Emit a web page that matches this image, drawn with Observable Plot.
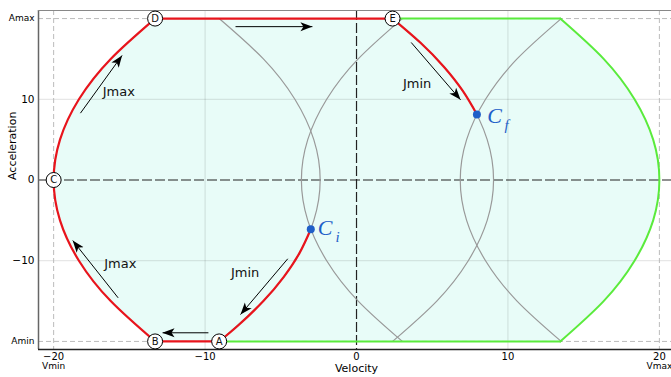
<!DOCTYPE html>
<html>
<head>
<meta charset="utf-8">
<script src="https://cdn.jsdelivr.net/npm/d3@7"></script>
<script src="https://cdn.jsdelivr.net/npm/@observablehq/plot@0.6"></script>
<style>
  html, body { margin: 0; padding: 0; background: white; }
</style>
</head>
<body>
<div id="chart"></div>
<script>
// ---- axes / limits ----
const xDomain = [-21, 20.8];
const yDomain = [-21, 21];
const xTicks = [-20, -10, 0, 10, 20];
const yTicks = [-10, 0, 10];
const gridV = [-10, 10];
const gridA = [-10, 10];
const vLimits = [-20, 20];
const aLimits = [-20, 20];
const vLimitLabels = ["Vmin", "Vmax"];
const aLimitLabels = ["Amin", "Amax"];

// ---- sampled accelerations for the full-height curves ----
const aSamples = [-20, -15, -10, -5, 0, 5, 10, 15, 20];
// left boundary (Vmin, Jmax)
const vLeftBound = [-13.3, -16.23, -18.33, -19.58, -20, -19.58, -18.33, -16.23, -13.3];
// right boundary (Vmax)
const vRightBound = [13.45, 16.32, 18.36, 19.59, 20, 19.59, 18.36, 16.32, 13.45];
// grey curves through Ci and Cf
const vGrayCiA = [-9.07, -6.15, -4.07, -2.82, -2.4, -2.82, -4.07, -6.15, -9.07];
const vGrayCiB = [3.03, 0.11, -1.97, -3.22, -3.64, -3.22, -1.97, 0.11, 3.03];
const vGrayCfA = [2.38, 5.30, 7.38, 8.63, 9.05, 8.63, 7.38, 5.30, 2.38];
const vGrayCfB = [13.52, 10.6, 8.52, 7.27, 6.85, 7.27, 8.52, 10.6, 13.52];

// red partial curves
const aEtoCf = [20, 17, 14, 11, 8.12];
const vEtoCf = [2.38, 4.23, 5.78, 7.03, 7.95];
const aCitoA = [-6.1, -9, -12, -15, -18, -20];
const vCitoA = [-3.02, -3.75, -4.8, -6.15, -7.8, -9.07];

// key points
const pointNames = ["A", "B", "C", "D", "E"];
const pointV = [-9.07, -13.3, -20, -13.3, 2.38];
const pointA = [-20, -20, 0, 20, 20];
const ciPoint = [-3.02, -6.1];
const cfPoint = [7.95, 8.12];
const greenTopEnd = 13.45;

// arrows [v1, a1, v2, a2]
const arrowStartV = [-7.99, -9.78, -18.23, -15.74, -4.54, 3.61];
const arrowStartA = [19.0, -18.93, 8.28, -14.6, -9.76, 17.04];
const arrowEndV = [-2.91, -12.81, -15.48, -18.74, -7.66, 6.87];
const arrowEndA = [19.0, -18.93, 15.43, -7.5, -16.67, 9.94];

// jerk labels
const jerkText = ["Jmax", "Jmax", "Jmin", "Jmin"];
const jerkV = [-15.7, -15.6, -7.36, 4.0];
const jerkA = [10.9, -10.4, -11.5, 11.9];

// ---- build tables ----
const zipVA = (vs, as) => vs.map((v, i) => ({v, a: as[i]}));
const regionRows = aSamples.map((a, i) => ({a, left: vLeftBound[i], right: vRightBound[i]}));
const leftCurve = zipVA(vLeftBound, aSamples);
const rightCurve = zipVA(vRightBound, aSamples);
const grayCurves = [vGrayCiA, vGrayCiB, vGrayCfA, vGrayCfB]
  .flatMap((vs, k) => vs.map((v, i) => ({v, a: aSamples[i], k})));
const redEtoCf = zipVA(vEtoCf, aEtoCf);
const redCitoA = zipVA(vCitoA, aCitoA);
const points = pointNames.map((name, i) => ({name, v: pointV[i], a: pointA[i]}));
const P = Object.fromEntries(points.map(p => [p.name, p]));
const redStraight = [
  [{v: P.B.v, a: P.B.a}, {v: P.A.v, a: P.A.a}],
  [{v: P.D.v, a: P.D.a}, {v: P.E.v, a: P.E.a}]
].flatMap((seg, k) => seg.map(d => ({...d, k})));
const greenPath = [
  {v: P.A.v, a: aLimits[0]}, {v: greenTopEnd, a: aLimits[0]}
];
const greenTop = [{v: greenTopEnd, a: aLimits[1]}, {v: P.E.v, a: aLimits[1]}];
const arrows = arrowStartV.map((v, i) => ({x1: v, y1: arrowStartA[i], x2: arrowEndV[i], y2: arrowEndA[i]}));
const jerkLabels = jerkText.map((t, i) => ({t, v: jerkV[i], a: jerkA[i]}));
const cDots = [ciPoint, cfPoint].map(([v, a]) => ({v, a}));

function filledHead(color) {
  const ns = "http://www.w3.org/2000/svg";
  const m = document.createElementNS(ns, "marker");
  m.setAttribute("viewBox", "-12 -5 12 10");
  m.setAttribute("markerWidth", 12);
  m.setAttribute("markerHeight", 10);
  m.setAttribute("markerUnits", "userSpaceOnUse");
  m.setAttribute("orient", "auto");
  m.setAttribute("refX", 0);
  m.setAttribute("refY", 0);
  const p = document.createElementNS(ns, "path");
  p.setAttribute("d", "M0,0L-12,-4.5L-9,0L-12,4.5Z");
  p.setAttribute("fill", color === "currentColor" ? "black" : color);
  p.setAttribute("stroke", "none");
  m.appendChild(p);
  return m;
}

const RED = "#e8141c";
const GREEN = "#5aeb3c";
const BLUE = "#1f5fc8";
const FILL = "#e8fcf8";

const chart = Plot.plot({
  width: 671,
  height: 377,
  marginLeft: 38,
  marginRight: 0,
  marginTop: 10,
  marginBottom: 28,
  style: {fontFamily: "DejaVu Sans", background: "white", color: "black"},
  x: {domain: xDomain},
  y: {domain: yDomain},
  marks: [
    Plot.areaX(regionRows, {y: "a", x1: "left", x2: "right", curve: "natural", fill: FILL}),
    Plot.ruleX(gridV, {stroke: "#000", strokeOpacity: 0.12}),
    Plot.ruleY(gridA, {stroke: "#000", strokeOpacity: 0.12}),
    Plot.ruleX(vLimits, {stroke: "#bbb", strokeDasharray: "5,3"}),
    Plot.ruleY(aLimits, {stroke: "#bbb", strokeDasharray: "5,3"}),
    Plot.ruleX([0], {stroke: "#222", strokeDasharray: "10,3", strokeWidth: 1.2}),
    Plot.ruleY([0], {stroke: "#222", strokeDasharray: "10,3", strokeWidth: 1.2}),
    Plot.ruleX([xDomain[0]], {stroke: "#666", strokeWidth: 1.5}),
    Plot.ruleY([yDomain[0]], {stroke: "#222", strokeWidth: 1.5}),
    Plot.ruleY([yDomain[1]], {stroke: "#888", strokeWidth: 1}),
    Plot.line(grayCurves, {x: "v", y: "a", z: "k", curve: "natural", stroke: "#999", strokeWidth: 1.2}),
    Plot.line(rightCurve, {x: "v", y: "a", curve: "natural", stroke: GREEN, strokeWidth: 2}),
    Plot.line(greenPath, {x: "v", y: "a", stroke: GREEN, strokeWidth: 2}),
    Plot.line(greenTop, {x: "v", y: "a", stroke: GREEN, strokeWidth: 2}),
    Plot.line(leftCurve, {x: "v", y: "a", curve: "natural", stroke: RED, strokeWidth: 2.2}),
    Plot.line(redStraight, {x: "v", y: "a", z: "k", stroke: RED, strokeWidth: 2.2}),
    Plot.line(redEtoCf, {x: "v", y: "a", curve: "natural", stroke: RED, strokeWidth: 2.2}),
    Plot.line(redCitoA, {x: "v", y: "a", curve: "natural", stroke: RED, strokeWidth: 2.2}),
    Plot.link(arrows, {x1: "x1", y1: "y1", x2: "x2", y2: "y2", stroke: "black", strokeWidth: 1, markerEnd: filledHead}),
    Plot.text(jerkLabels, {x: "v", y: "a", text: "t", fontSize: 13, fill: "#111"}),
    Plot.dot(points, {x: "v", y: "a", r: 7.5, fill: "white", stroke: "black", strokeWidth: 1}),
    Plot.text(points, {x: "v", y: "a", text: "name", fontSize: 10, fill: "#111"}),
    Plot.dot(cDots, {x: "v", y: "a", r: 4, fill: BLUE}),
    Plot.text(["C"], {x: ciPoint[0] + 0.94, y: ciPoint[1] + 0.21, fontSize: 22, fontFamily: "Liberation Serif", fontStyle: "italic", fill: BLUE}),
    Plot.text(["i"], {x: ciPoint[0] + 1.77, y: ciPoint[1] - 1.03, fontSize: 15, fontFamily: "Liberation Serif", fontStyle: "italic", fill: BLUE}),
    Plot.text(["C"], {x: cfPoint[0] + 1.17, y: cfPoint[1] - 0.13, fontSize: 22, fontFamily: "Liberation Serif", fontStyle: "italic", fill: BLUE}),
    Plot.text(["f"], {x: cfPoint[0] + 1.96, y: cfPoint[1] - 1.37, fontSize: 15, fontFamily: "Liberation Serif", fontStyle: "italic", fill: BLUE}),
    Plot.axisX({ticks: xTicks, tickSize: 0, tickPadding: 3, fontSize: 10, label: null}),
    Plot.axisY({ticks: yTicks, tickSize: 0, tickPadding: 4, fontSize: 10.5, label: null}),
    Plot.text(vLimitLabels, {x: vLimits, frameAnchor: "bottom", dy: 19, fontSize: 9}),
    Plot.text(aLimitLabels, {y: aLimits, frameAnchor: "left", textAnchor: "end", dx: -4, fontSize: 9}),
    Plot.text(["Velocity"], {x: 0, frameAnchor: "bottom", dy: 22, fontSize: 11}),
    Plot.text(["Acceleration"], {y: 0, frameAnchor: "left", dx: -26, rotate: -90, fontSize: 11})
  ]
});
document.getElementById("chart").appendChild(chart);
</script>
</body>
</html>
